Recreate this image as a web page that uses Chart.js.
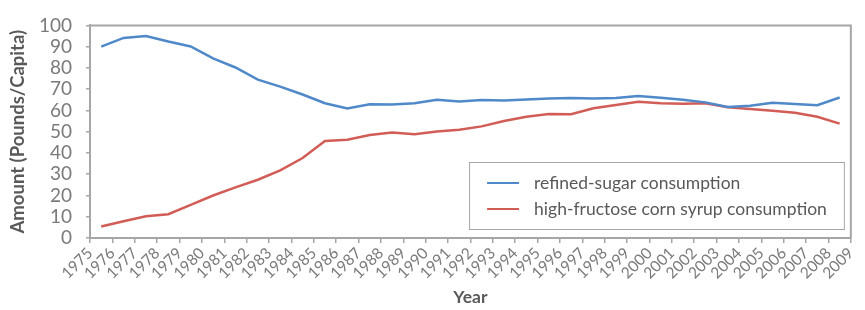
<!DOCTYPE html>
<html>
<head>
<meta charset="utf-8">
<script src="https://cdn.jsdelivr.net/npm/chart.js@4/dist/chart.umd.min.js"></script>
<style>
  html, body { margin: 0; padding: 0; background: #ffffff; }
  #wrap { width: 865px; height: 310px; }
</style>
</head>
<body>
<div id="wrap"><canvas id="c" width="865" height="310"></canvas></div>
<script>
// ---- data ----
const years = [1975, 1976, 1977, 1978, 1979, 1980, 1981, 1982, 1983, 1984,
               1985, 1986, 1987, 1988, 1989, 1990, 1991, 1992, 1993, 1994,
               1995, 1996, 1997, 1998, 1999, 2000, 2001, 2002, 2003, 2004,
               2005, 2006, 2007, 2008];
const refinedSugar = [90.0, 94.1, 95.0, 92.4, 90.1, 84.5, 80.2, 74.5, 71.2, 67.5,
                      63.4, 60.9, 62.9, 62.8, 63.4, 65.0, 64.2, 64.9, 64.7, 65.1,
                      65.6, 65.8, 65.6, 65.8, 66.8, 66.0, 65.0, 63.8, 61.6, 62.2,
                      63.6, 63.0, 62.5, 66.1];
const hfcs = [5.4, 7.9, 10.2, 11.2, 15.6, 20.0, 23.8, 27.4, 31.8, 37.6,
              45.6, 46.2, 48.4, 49.6, 48.8, 50.1, 50.9, 52.5, 55.0, 57.0,
              58.3, 58.2, 61.0, 62.6, 64.1, 63.4, 63.1, 63.4, 61.5, 60.7,
              59.9, 58.9, 57.0, 53.8];
const seriesLabels = ['refined-sugar consumption', 'high-fructose corn syrup consumption'];
const xTickStart = 1975, xTickEnd = 2009;
const yTickMin = 0, yTickMax = 100, yTickStep = 10;
const axisTitles = { x: 'Year', y: 'Amount (Pounds/Capita)' };

// ---- styling ----
const FONT = 'Lato, "Open Sans", "DejaVu Sans", sans-serif';
const TEXT = '#595959';
const TICKTEXT = '#7a7a7a';
const FRAME = '#a6a6a6';
const colors = ['#4f89c9', '#d25d57'];

// data points sit in the middle of each year's slot
const toPoints = vals => years.map((yr, i) => ({ x: yr + 0.5, y: vals[i] }));

const framePlugin = {
  id: 'frame',
  afterDatasetsDraw(chart) {
    const { ctx, chartArea: a } = chart;
    ctx.save();
    ctx.strokeStyle = FRAME;
    ctx.lineWidth = 2;
    ctx.beginPath();
    ctx.moveTo(a.left, a.top);
    ctx.lineTo(a.right, a.top);
    ctx.lineTo(a.right, a.bottom);
    ctx.stroke();
    ctx.restore();
  }
};

const boxLegend = {
  id: 'boxLegend',
  afterDraw(chart) {
    const { ctx, chartArea: a } = chart;
    ctx.save();
    ctx.font = '17.5px ' + FONT;
    const ds = chart.data.datasets;
    let maxW = 0;
    ds.forEach(d => { maxW = Math.max(maxW, ctx.measureText(d.label).width); });
    const right = a.right - 6;
    const bottom = a.bottom - 8;
    const h = 68;
    const w = 65 + maxW + 18;
    const left = right - w;
    const top = bottom - h;
    ctx.fillStyle = '#ffffff';
    ctx.fillRect(left, top, w, h);
    ctx.strokeStyle = FRAME;
    ctx.lineWidth = 1;
    ctx.strokeRect(left + 0.5, top + 0.5, w - 1, h - 1);
    ds.forEach((d, i) => {
      const y = top + 21 + i * 26;
      ctx.strokeStyle = d.borderColor;
      ctx.lineWidth = 2;
      ctx.beginPath();
      ctx.moveTo(left + 18, y);
      ctx.lineTo(left + 50, y);
      ctx.stroke();
      ctx.fillStyle = TEXT;
      ctx.textAlign = 'left';
      ctx.textBaseline = 'middle';
      ctx.fillText(d.label, left + 65, y);
    });
    ctx.restore();
  }
};

new Chart(document.getElementById('c'), {
  type: 'line',
  data: {
    datasets: [
      { label: seriesLabels[0], data: toPoints(refinedSugar), borderColor: colors[0],
        backgroundColor: colors[0], borderWidth: 2.5, pointRadius: 0, tension: 0 },
      { label: seriesLabels[1], data: toPoints(hfcs), borderColor: colors[1],
        backgroundColor: colors[1], borderWidth: 2.5, pointRadius: 0, tension: 0 }
    ]
  },
  options: {
    responsive: false,
    animation: false,
    events: [],
    layout: { padding: { top: 19, right: 2, left: 0, bottom: 0 } },
    plugins: { legend: { display: false }, tooltip: { enabled: false } },
    scales: {
      x: {
        type: 'linear',
        min: xTickStart,
        max: xTickEnd,
        afterFit(s) { s.height = 72; },
        ticks: {
          stepSize: 1,
          autoSkip: false,
          maxRotation: 45,
          minRotation: 45,
          padding: 1,
          color: TICKTEXT,
          font: { family: FONT, size: 15.5 },
          callback: v => String(v)
        },
        grid: { display: true, drawOnChartArea: false, drawTicks: true, tickLength: 5,
                color: FRAME, lineWidth: 1.5 },
        border: { display: true, color: FRAME, width: 2 },
        title: { display: true, text: axisTitles.x, color: TEXT,
                 font: { family: FONT, size: 17.5, weight: 'bold' },
                 padding: { top: 0, bottom: 2 } }
      },
      y: {
        min: yTickMin,
        max: yTickMax,
        afterFit(s) { s.width = 90; },
        ticks: {
          stepSize: yTickStep,
          autoSkip: false,
          padding: 14,
          color: TICKTEXT,
          font: { family: FONT, size: 19 }
        },
        grid: { display: true, drawOnChartArea: false, drawTicks: true, tickLength: 4,
                color: FRAME, lineWidth: 1.5 },
        border: { display: true, color: FRAME, width: 2 },
        title: { display: true, text: axisTitles.y, color: TEXT,
                 font: { family: FONT, size: 18.5, weight: 'bold' },
                 padding: { top: 7, bottom: 0 } }
      }
    }
  },
  plugins: [framePlugin, boxLegend]
});
</script>
</body>
</html>
